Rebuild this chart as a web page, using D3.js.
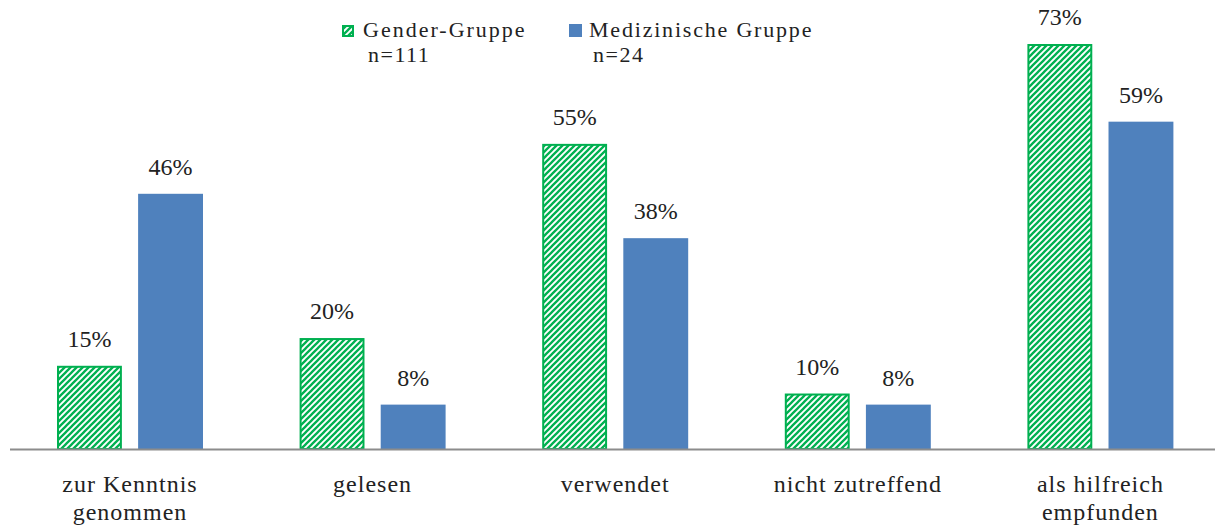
<!DOCTYPE html>
<html>
<head>
<meta charset="utf-8">
<script src="https://cdn.jsdelivr.net/npm/d3@7"></script>
<style>
  body { margin: 0; background: #fff; }
  text { font-family: "Liberation Serif", "DejaVu Serif", serif; fill: #222; }
</style>
</head>
<body>
<div id="chart"></div>
<script>
// data
const categories = ["zur Kenntnis|genommen", "gelesen", "verwendet", "nicht zutreffend", "als hilfreich|empfunden"];
const genderValues = [15, 20, 55, 10, 73];
const mediValues = [46, 8, 38, 8, 59];
const seriesNames = ["Gender-Gruppe", "Medizinische Gruppe"];
const seriesN = ["n=111", "n=24"];

const width = 1215, height = 529;
const baseY = 449;

let svg = d3.select("#chart").append("svg")
    .attr("width", width).attr("height", height);

// hatch pattern for the gender group
let defs = svg.append("defs");
let pat = defs.append("pattern").attr("id", "hatch")
    .attr("patternUnits", "userSpaceOnUse")
    .attr("width", 6).attr("height", 6);
pat.append("rect").attr("width", 6).attr("height", 6).attr("fill", "#fff");
pat.append("path").attr("d", "M0,6 L6,0 M-1,1 L1,-1 M5,7 L7,5")
    .attr("stroke", "#00B050").attr("stroke-width", 2.3);

let x = d3.scaleBand().domain(categories).range([9, 1222]).paddingInner(0).paddingOuter(0);
let inner = d3.scaleBand().domain([0, 1]).range([48, 194]).paddingInner(0.2);
let y = d3.scaleLinear().domain([0, 73]).range([baseY, 44]);

const series = [
    { vals: genderValues, fill: "url(#hatch)", stroke: "#00B050" },
    { vals: mediValues, fill: "#4F81BD", stroke: "none" }
];

series.forEach((s, si) => {
    let g = svg.append("g");
    g.selectAll("rect").data(s.vals).enter().append("rect")
        .attr("x", (d, i) => x(categories[i]) + inner(si) + (si == 0 ? 1 : 0))
        .attr("y", d => y(d) + (si == 0 ? 1 : 0))
        .attr("width", inner.bandwidth() - (si == 0 ? 2 : 0))
        .attr("height", d => baseY - y(d) - (si == 0 ? 1 : 0))
        .attr("fill", s.fill)
        .attr("stroke", s.stroke)
        .attr("stroke-width", 2);

    g.selectAll("text").data(s.vals).enter().append("text")
        .attr("x", (d, i) => x(categories[i]) + inner(si) + inner.bandwidth() / 2)
        .attr("y", d => y(d) - 19)
        .attr("text-anchor", "middle")
        .attr("font-size", 24)
        .text(d => d + "%");
});

// baseline
svg.append("line").attr("x1", 10).attr("x2", 1215)
    .attr("y1", baseY + 0.5).attr("y2", baseY + 0.5)
    .attr("stroke", "#8c8c8c").attr("stroke-width", 2);

// category labels
let lab = svg.append("g").selectAll("text").data(categories).enter().append("text")
    .attr("x", d => x(d) + 121)
    .attr("y", 492)
    .attr("text-anchor", "middle")
    .attr("font-size", 24)
    .attr("letter-spacing", 1);
lab.each(function(d) {
    let parts = d.split("|");
    let t = d3.select(this);
    parts.forEach((p, i) => {
        t.append("tspan").attr("x", t.attr("x")).attr("dy", i == 0 ? 0 : 28).text(p);
    });
});

// legend
const legBox = [[342, 25, 10], [569, 24, 13]];
const legTextX = [363, 589];
const legNX = [368, 593];
seriesNames.forEach((name, i) => {
    let b = legBox[i];
    svg.append("rect")
        .attr("x", b[0] + (i == 0 ? 1 : 0)).attr("y", b[1] + (i == 0 ? 1 : 0))
        .attr("width", b[2]).attr("height", b[2])
        .attr("fill", series[i].fill)
        .attr("stroke", series[i].stroke).attr("stroke-width", 2);
    svg.append("text").attr("x", legTextX[i]).attr("y", 37)
        .attr("font-size", 22).attr("letter-spacing", i == 0 ? 2 : 1.8).text(name);
    svg.append("text").attr("x", legNX[i]).attr("y", 62)
        .attr("font-size", 22).attr("letter-spacing", 1.5).text(seriesN[i]);
});
</script>
</body>
</html>
